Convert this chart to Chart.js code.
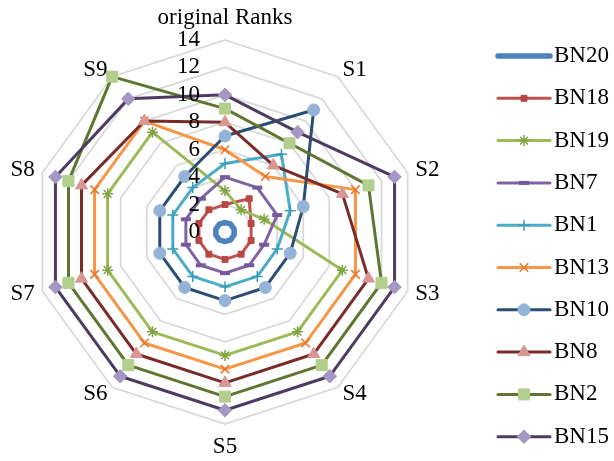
<!DOCTYPE html>
<html>
<head>
<meta charset="utf-8">
<script src="https://cdn.jsdelivr.net/npm/chart.js@4/dist/chart.umd.min.js"></script>
<style>
  html, body { margin: 0; padding: 0; background: #ffffff; }
  canvas { display: block; }
</style>
</head>
<body>
<canvas id="radar" width="614" height="461"></canvas>
<script>
// Axes of the radar, clockwise from the top
const axisLabels = ['original Ranks', 'S1', 'S2', 'S3', 'S4', 'S5', 'S6', 'S7', 'S8', 'S9'];
// Radial tick labels
const tickValues = [0, 2, 4, 6, 8, 10, 12, 14];

// Rank of each bearing on every axis
const seriesNames = ['BN20', 'BN18', 'BN19', 'BN7', 'BN1', 'BN13', 'BN10', 'BN8', 'BN2', 'BN15'];
const bn20 = [0.7, 0.7, 0.7, 0.7, 0.7, 0.7, 0.7, 0.7, 0.7, 0.7];
const bn18 = [2, 3, 2, 2, 2, 2, 2, 2, 2, 2];
const bn19 = [3, 2, 3, 9, 9, 9, 9, 9, 9, 9];
const bn7  = [4, 4, 4, 3, 3, 3, 3, 3, 3, 3];
const bn1  = [5, 7, 5, 4, 4, 4, 4, 4, 4, 4];
const bn13 = [6, 5, 10, 10, 10, 10, 10, 10, 10, 10];
const bn10 = [7, 11, 6, 5, 5, 5, 5, 5, 5, 5];
const bn8  = [8, 6, 9, 11, 11, 11, 11, 11, 11, 10];
const bn2  = [9, 8, 11, 12, 12, 12, 12, 12, 12, 14];
const bn15 = [10, 9, 13, 13, 13, 13, 13, 13, 13, 12];
const seriesValues = [bn20, bn18, bn19, bn7, bn1, bn13, bn10, bn8, bn2, bn15];

// Line and marker look of each series
const seriesStyles = [
  { line: '#4F81BD', width: 5.5, style: false,    radius: 0,   fill: '#4F81BD', edge: '#4F81BD', edgeW: 1 },
  { line: '#C0504D', width: 3, style: 'rect',     radius: 4.2, fill: '#B94743', edge: '#B94743', edgeW: 1 },
  { line: '#9BBB59', width: 3, style: 'star',     radius: 5.5, fill: '#82A343', edge: '#82A343', edgeW: 1.5 },
  { line: '#8064A2', width: 3, style: 'line',     radius: 5,   fill: '#7459A0', edge: '#7459A0', edgeW: 4 },
  { line: '#4BACC6', width: 3, style: 'cross',    radius: 5.5, fill: '#3A9CB8', edge: '#3A9CB8', edgeW: 1.5 },
  { line: '#F79646', width: 3, style: 'crossRot', radius: 6,   fill: '#E8772A', edge: '#E8772A', edgeW: 1.5 },
  { line: '#2C4D75', width: 3, style: 'circle',   radius: 6,   fill: '#95B3D7', edge: '#95B3D7', edgeW: 1 },
  { line: '#772C2A', width: 3, style: 'triangle', radius: 7,   fill: '#D99694', edge: '#D99694', edgeW: 1 },
  { line: '#5F7530', width: 3, style: 'rect',     radius: 7.8, fill: '#B3CF8E', edge: '#B3CF8E', edgeW: 1 },
  { line: '#4D3B62', width: 3, style: 'rectRot',  radius: 6.8, fill: '#A597C4', edge: '#A597C4', edgeW: 1 }
];

const FONT = "23px 'Liberation Serif', 'Times New Roman', serif";

const datasets = seriesNames.map((name, i) => {
  const s = seriesStyles[i];
  return {
    label: name,
    data: seriesValues[i],
    fill: false,
    borderColor: s.line,
    borderWidth: s.width,
    borderJoinStyle: 'round',
    pointStyle: s.style,
    pointRadius: s.radius,
    pointHoverRadius: s.radius,
    pointBackgroundColor: s.fill,
    pointBorderColor: s.edge,
    pointBorderWidth: s.edgeW,
    order: -i
  };
});

// Tick labels, axis names and the legend are painted on top of the series
const labelsPlugin = {
  id: 'radarLabels',
  afterDatasetsDraw(chart) {
    const ctx = chart.ctx;
    const r = chart.scales.r;
    ctx.save();
    ctx.font = FONT;
    ctx.fillStyle = '#000000';

    // values along the vertical axis, to its left
    ctx.textAlign = 'right';
    ctx.textBaseline = 'middle';
    tickValues.forEach(v => {
      const d = r.getDistanceFromCenterForValue(v);
      ctx.fillText(String(v), r.xCenter - 25, r.yCenter - d);
    });

    // axis names just outside the outer ring
    axisLabels.forEach((text, i) => {
      const p = r.getPointPosition(i, r.drawingArea + 8);
      const dx = p.x - r.xCenter;
      let align = 'center';
      let y = p.y;
      if (Math.abs(dx) < 1) {
        y += (p.y < r.yCenter) ? -14 : 15;
      } else {
        align = dx > 0 ? 'left' : 'right';
      }
      ctx.textAlign = align;
      ctx.fillText(text, p.x, y);
    });

    // legend: line sample with its marker, then the name
    const x0 = 498, x1 = 550, top = 56, step = 42.3;
    chart.data.datasets.forEach((ds, i) => {
      const y = top + i * step;
      ctx.save();
      ctx.strokeStyle = ds.borderColor;
      ctx.lineWidth = ds.borderWidth;
      ctx.lineCap = 'round';
      ctx.beginPath();
      ctx.moveTo(x0, y);
      ctx.lineTo(x1, y);
      ctx.stroke();
      if (ds.pointStyle) {
        ctx.lineCap = 'butt';
        ctx.fillStyle = ds.pointBackgroundColor;
        ctx.strokeStyle = ds.pointBorderColor;
        ctx.lineWidth = ds.pointBorderWidth;
        Chart.helpers.drawPoint(ctx, {
          pointStyle: ds.pointStyle,
          radius: ds.pointRadius,
          borderWidth: ds.pointBorderWidth,
          rotation: 0
        }, (x0 + x1) / 2, y);
      }
      ctx.restore();
      ctx.textAlign = 'left';
      ctx.textBaseline = 'middle';
      ctx.fillStyle = '#000000';
      ctx.fillText(ds.label, x1 + 4, y);
    });
    ctx.restore();
  }
};

new Chart(document.getElementById('radar'), {
  type: 'radar',
  data: { labels: axisLabels, datasets: datasets },
  options: {
    responsive: false,
    devicePixelRatio: 1,
    animation: false,
    layout: { padding: { left: 33.5, right: 196.5, top: 40, bottom: 37 } },
    elements: { line: { tension: 0 } },
    plugins: {
      legend: { display: false },
      tooltip: { enabled: false },
      title: { display: false }
    },
    scales: {
      r: {
        min: 0,
        max: 14,
        ticks: { stepSize: 2, display: false },
        grid: { color: '#D9D9D9', lineWidth: 1.75, circular: false },
        angleLines: { display: false },
        pointLabels: { display: false }
      }
    }
  },
  plugins: [labelsPlugin]
});
</script>
</body>
</html>
